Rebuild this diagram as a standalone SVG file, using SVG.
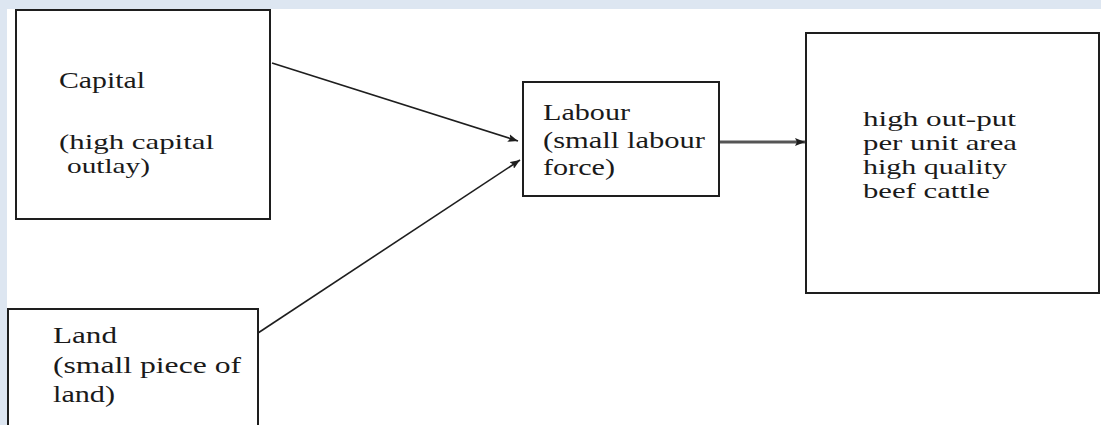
<svg xmlns="http://www.w3.org/2000/svg" width="1101" height="425" viewBox="0 0 1101 425">
<style>
.box{fill:#fff;stroke:#1e1e1e;stroke-width:2}
.t{font-family:"Liberation Serif","Times New Roman",serif;font-size:23px;fill:#1a1a1a}
.s{font-size:21px}
.c{stroke:#1e1e1e;stroke-width:1.6;fill:none}
</style>
<defs>
<marker id="ah" viewBox="0 0 10 8" refX="10" refY="4" markerWidth="10" markerHeight="8" markerUnits="userSpaceOnUse" orient="auto">
<path d="M0,0 L10,4 L0,8 L2,4 z" fill="#1e1e1e"/>
</marker>
</defs>
<rect x="0" y="0" width="1101" height="425" fill="#dde6f1"/>
<rect x="7" y="9" width="1094" height="416" fill="#fff"/>
<g id="capital">
<rect class="box" x="16" y="10" width="254" height="209"/>
<text class="t" x="59" y="88" textLength="86" lengthAdjust="spacingAndGlyphs">Capital</text>
<text class="t s" x="59" y="149" textLength="155" lengthAdjust="spacingAndGlyphs">(high capital</text>
<text class="t s" x="67" y="173" textLength="83" lengthAdjust="spacingAndGlyphs">outlay)</text>
</g>
<g id="land">
<rect class="box" x="8" y="309" width="250" height="130"/>
<text class="t" x="53" y="343" textLength="64" lengthAdjust="spacingAndGlyphs">Land</text>
<text class="t" x="53" y="373" textLength="188" lengthAdjust="spacingAndGlyphs">(small piece of</text>
<text class="t" x="53" y="402" textLength="62" lengthAdjust="spacingAndGlyphs">land)</text>
</g>
<g id="labour">
<rect class="box" x="523" y="82" width="196" height="114"/>
<text class="t" x="543" y="120" textLength="87" lengthAdjust="spacingAndGlyphs">Labour</text>
<text class="t" x="543" y="148" textLength="162" lengthAdjust="spacingAndGlyphs">(small labour</text>
<text class="t" x="543" y="175" textLength="72" lengthAdjust="spacingAndGlyphs">force)</text>
</g>
<g id="output">
<rect class="box" x="806" y="33" width="293" height="260"/>
<text class="t s" x="863" y="126" textLength="153" lengthAdjust="spacingAndGlyphs">high out-put</text>
<text class="t s" x="863" y="150" textLength="154" lengthAdjust="spacingAndGlyphs">per unit area</text>
<text class="t s" x="863" y="174" textLength="144" lengthAdjust="spacingAndGlyphs">high quality</text>
<text class="t s" x="863" y="198" textLength="127" lengthAdjust="spacingAndGlyphs">beef cattle</text>
</g>
<g id="connectors">
<line class="c" x1="272" y1="63" x2="518" y2="141" marker-end="url(#ah)"/>
<line class="c" x1="258" y1="333" x2="520" y2="160" marker-end="url(#ah)"/>
<line class="c" x1="720" y1="142" x2="805" y2="142" marker-end="url(#ah)" style="stroke:#555;stroke-width:3"/>
</g>
</svg>
